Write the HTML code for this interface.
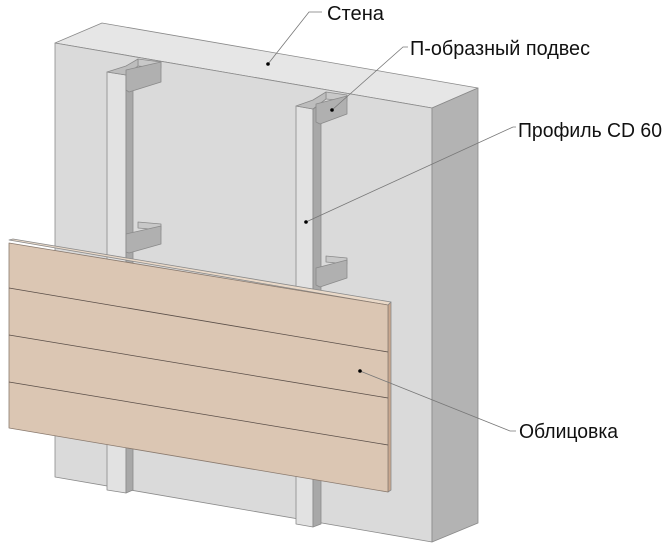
<!DOCTYPE html>
<html><head><meta charset="utf-8"><style>
html,body{margin:0;padding:0;background:#fff;}
svg{display:block}
text{font-family:"Liberation Sans",Arial,sans-serif;font-size:20px;fill:#111;}
</style></head><body>
<svg width="670" height="550" viewBox="0 0 670 550" xmlns="http://www.w3.org/2000/svg">
<g stroke="#8a8a8a" stroke-width="0.8" stroke-linejoin="round">
<polygon points="102,23 478,88 432,108 55,43" fill="#e6e6e6"/>
<polygon points="55,43 432,108 432,542 55,477" fill="#dadada"/>
<polygon points="432,108 478,88 478,523 432,542" fill="#b3b3b3"/>

<polygon points="107,72 126,75 126,493 107,490" fill="#e2e2e2"/>
<polygon points="126,75 133,70 133,490 126,493" fill="#a8a8a8"/>
<polygon points="138,59 161,62 161,68 138,66" fill="#c8c8c8"/>
<polygon points="107,72 126,66 138,59 138,66 126,75" fill="#bdbdbd"/>
<polygon points="126,70 161,62 161,82 129,92 126,90" fill="#b0b0b0"/>
<polygon points="138,222 161,224 161,230 138,228" fill="#c8c8c8"/>
<polygon points="126,234 161,226 161,244 129,253 126,252" fill="#b0b0b0"/>

<polygon points="296,106 313,109 313,527 296,524" fill="#e2e2e2"/>
<polygon points="313,109 321,104 321,524 313,527" fill="#a8a8a8"/>
<polygon points="326,92 347,95 347,101 326,99" fill="#c8c8c8"/>
<polygon points="296,106 313,100 326,92 326,99 313,109" fill="#bdbdbd"/>
<polygon points="316,104 347,96 347,114 320,124 316,122" fill="#b0b0b0"/>
<polygon points="326,256 347,258 347,264 326,262" fill="#c8c8c8"/>
<polygon points="316,268 347,260 347,278 320,287 316,285" fill="#b0b0b0"/>

<polygon points="9,240 13,239 391,302 388,305" fill="#ead9c8"/>
<polygon points="388,305 391,302 391,490 388,492" fill="#c9a78e"/>
<polygon points="9,243 388,305 388,492 9,428" fill="#dbc6b3" stroke="#8a7a6e"/>
<line x1="9" y1="288" x2="388" y2="352" stroke="#5a4e48"/>
<line x1="9" y1="335" x2="388" y2="398" stroke="#5a4e48"/>
<line x1="9" y1="382" x2="388" y2="445" stroke="#5a4e48"/>
</g>

<g stroke="#777" stroke-width="0.8" fill="none">
<polyline points="268,64 309,12 322,12"/>
<polyline points="332,110 403,47 408,47"/>
<polyline points="306,222 513,127 516,127"/>
<polyline points="360,371 510,431 516,431"/>
</g>
<g fill="#000">
<circle cx="268" cy="64" r="1.8"/>
<circle cx="332" cy="110" r="1.8"/>
<circle cx="306" cy="222" r="1.8"/>
<circle cx="360" cy="371" r="1.8"/>
</g>
<text x="327" y="20" textLength="57" lengthAdjust="spacingAndGlyphs">Стена</text>
<text x="410" y="55" textLength="180" lengthAdjust="spacingAndGlyphs">П-образный подвес</text>
<text x="518" y="137" textLength="144" lengthAdjust="spacingAndGlyphs">Профиль CD 60</text>
<text x="519" y="438" textLength="99" lengthAdjust="spacingAndGlyphs">Облицовка</text>
</svg>
</body></html>
